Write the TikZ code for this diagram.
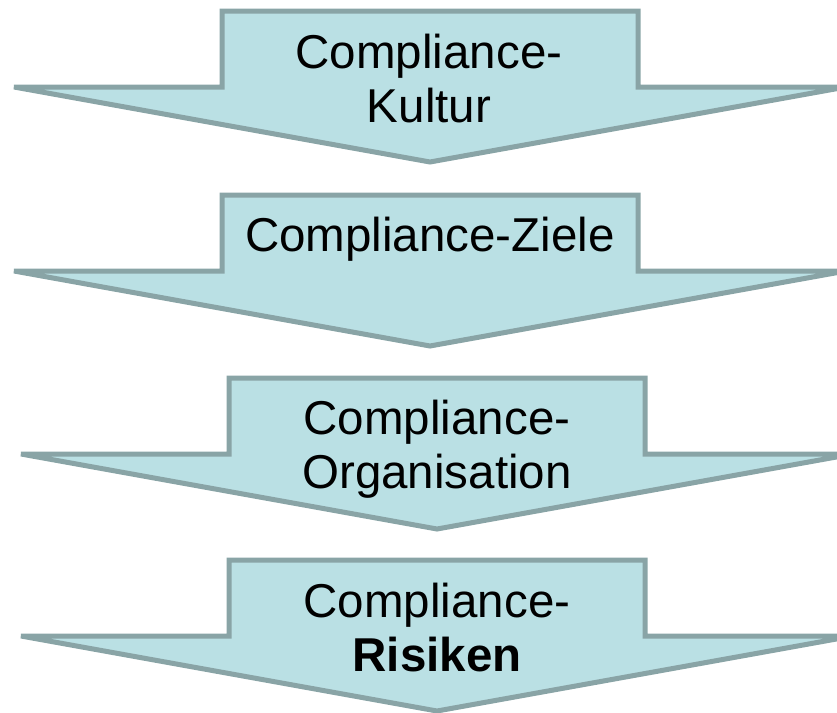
\documentclass[tikz,border=0pt]{standalone}
\usepackage{fontspec}
\setmainfont{Liberation Sans}
\definecolor{arrowfill}{RGB}{186,224,228}
\definecolor{arrowline}{RGB}{137,164,166}
\begin{document}
\begin{tikzpicture}[x=1pt,y=-1pt,
  arrowshape/.style={draw=arrowline,fill=arrowfill,line width=5pt,line join=miter},
  label/.style={font=\fontsize{47.5}{54}\selectfont,align=center,inner sep=0pt,anchor=base},
  downarrow/.pic={
    % block arrow: shaft on top, wide head below; origin at the shaft's top centre
    \draw[arrowshape] (-208,0) -- (208,0) -- (208,76) -- (416,76) -- (0,151)
      -- (-416,76) -- (-208,76) -- cycle;
  }]
\useasboundingbox (0,0) rectangle (837,712);
\clip (0,0) rectangle (837,712);

\pic at (430,11)  {downarrow};
\pic at (430,195) {downarrow};
\pic at (437,378) {downarrow};
\pic at (437,560) {downarrow};

% the base anchor of a two-line label sits on its last line
\node[label] (kultur) at (429,122) {Compliance-\\Kultur};
\node[label] (ziele)  at (430,251) {Compliance-Ziele};
\node[label] (orga)   at (437,488) {Compliance-\\Organisation};
\node[label] (risk)   at (437,671) {Compliance-\\\textbf{Risiken}};
\end{tikzpicture}
\end{document}
